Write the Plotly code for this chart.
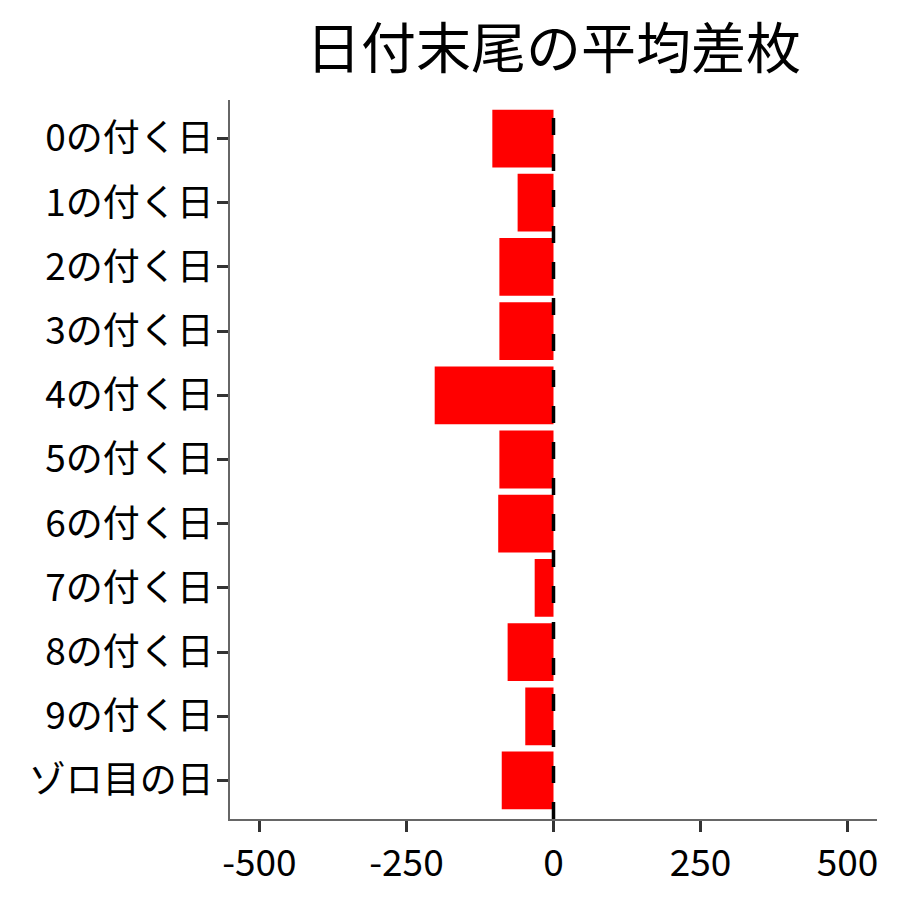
import plotly.graph_objects as go

# 日付末尾ごとの平均差枚
labels = ["0の付く日", "1の付く日", "2の付く日", "3の付く日", "4の付く日",
          "5の付く日", "6の付く日", "7の付く日", "8の付く日", "9の付く日", "ゾロ目の日"]
avg_diff = [-104, -61, -92, -92, -202, -92, -94, -32, -78, -48, -88]
x_ticks = [-500, -250, 0, 250, 500]

font = "Noto Sans CJK JP"

fig = go.Figure()
fig.add_trace(go.Bar(
    x=avg_diff, y=labels, orientation="h",
    marker=dict(color="#ff0000", line=dict(width=0)),
))
# 0の位置に破線
fig.add_vline(x=0, line=dict(color="black", width=3.5, dash="17px,19px"), layer="above")

fig.update_layout(
    width=900, height=900,
    paper_bgcolor="white", plot_bgcolor="white",
    showlegend=False,
    bargap=0.1,
    margin=dict(l=222, r=31, t=92, b=89),
    title=dict(text="日付末尾の平均差枚", x=0.5, xref="paper", y=0.955, yanchor="middle",
               font=dict(family=font, size=55, color="black")),
    font=dict(family=font, color="black"),
)
fig.update_xaxes(
    range=[-550, 550], tickvals=x_ticks, ticktext=[str(v) for v in x_ticks],
    showgrid=False, zeroline=False, showline=True, linecolor="#666666", linewidth=1.5,
    ticks="outside", ticklen=11, tickwidth=3, tickcolor="#333333",
    tickfont=dict(family=font, size=37, color="black"),
)
fig.update_yaxes(
    categoryorder="array", categoryarray=labels, autorange=False, range=[10.6, -0.6],
    showgrid=False, zeroline=False, showline=True, linecolor="#666666", linewidth=1.5,
    ticks="outside", ticklen=11, tickwidth=3, tickcolor="#333333",
    ticklabelstandoff=-4,
    tickfont=dict(family=font, size=37, color="black"),
)

fig.write_html("out.html")
